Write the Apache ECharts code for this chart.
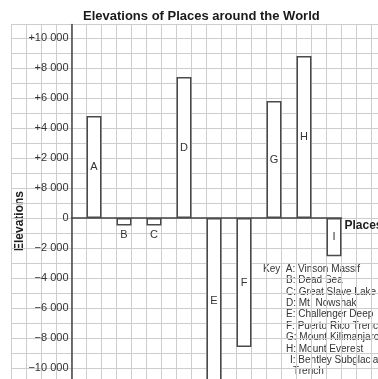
<!DOCTYPE html>
<html>
<head>
<meta charset="utf-8">
<script src="https://cdn.jsdelivr.net/npm/echarts@6/dist/echarts.min.js"></script>
<style>html,body{margin:0;padding:0;background:#fff}#c{width:378px;height:379px}</style>
</head>
<body>
<div id="c"></div>
<script>
// ---- data ----
var categories = ['A','B','C','D','E','F','G','H','I'];
// bar ends in the drawn axis units (15 px per 1000)
var elevations = [6800, -500, -500, 9400, -11000, -8600, 7800, 10800, -2550];
var labelBelow = ['B','C'];
var yTickValues = [-10000,-8000,-6000,-4000,-2000,0,2000,4000,6000,8000,10000,12000];
var yTickLabels = ['\u221210 000','\u22128 000','\u22126 000','\u22124 000','\u22122 000','0','+8 000','+2 000','+4 000','+6 000','+8 000','+10 000'];
var keyLetters = ['A','B','C','D','E','F','G','H','I'];
var keyNames = ['Vinson Massif','Dead Sea','Great Slave Lake','Mt. Nowshak','Challenger Deep','Puerto Rico Trench','Mount Kilimanjaro','Mount Everest','Bentley Subglacial'];
var keyExtra = 'Trench';

var FONT = '"Liberation Sans", Arial, sans-serif';
var chart = echarts.init(document.getElementById('c'), null, {renderer:'canvas'});

var yMin = -12000, yMax = 12900;
var gridTop = 24.5, gridHeight = 373.5;

var barData = elevations.map(function(v, i){
  var below = labelBelow.indexOf(categories[i]) >= 0;
  return {value: v, label: {position: below ? 'bottom' : 'inside', distance: 4}};
});

var keyGraphics = [];
var lineH = 11.4, keyY0 = 269;
keyLetters.forEach(function(l, i){
  var x = i === 0 ? 263 : (l === 'I' ? 290 : 286);
  var txt = (i === 0 ? 'Key: ' : '') + l + ': ' + keyNames[i];
  keyGraphics.push({type:'text', x: x, y: keyY0 + i*lineH,
    style:{text: txt, font: '10px ' + FONT, fill:'#333', verticalAlign:'middle'}});
});
keyGraphics.push({type:'text', x: 293, y: keyY0 + 9*lineH,
  style:{text: keyExtra, font: '10px ' + FONT, fill:'#333', verticalAlign:'middle'}});

chart.setOption({
  animation: false,
  backgroundColor: '#fff',
  title: {
    text: 'Elevations of Places around the World',
    left: 78, top: 5,
    textStyle: {fontFamily: FONT, fontSize: 13, fontWeight: 'bold', color: '#1a1a1a'}
  },
  grid: [
    {left: 11.5, top: gridTop, width: 435, height: gridHeight, containLabel: false, outerBoundsMode: 'none'},
    {left: 71.5, top: gridTop, width: 270, height: gridHeight, containLabel: false, outerBoundsMode: 'none'}
  ],
  xAxis: [
    {type: 'value', gridIndex: 0, min: 0, max: 29, interval: 1,
      axisLine:{show:false}, axisTick:{show:false}, axisLabel:{show:false},
      splitLine:{show:true, lineStyle:{color:'#cdcdcd', width:1}}},
    {type: 'category', gridIndex: 1, data: categories, boundaryGap: true,
      axisLine:{show:true, onZero:true, lineStyle:{color:'#444', width:1.5}},
      axisTick:{show:false}, axisLabel:{show:false}, splitLine:{show:false},
      name: 'Places', nameLocation: 'end', nameGap: 3,
      nameTextStyle:{fontFamily: FONT, fontSize: 12, fontWeight:'bold', color:'#222', verticalAlign:'top', padding:[2,0,0,0]}}
  ],
  yAxis: [
    {type: 'value', gridIndex: 0, min: yMin, max: yMax, interval: 1000,
      axisLine:{show:false}, axisTick:{show:false}, axisLabel:{show:false},
      splitLine:{show:true, lineStyle:{color:'#cdcdcd', width:1}}},
    {type: 'value', gridIndex: 1, min: yMin, max: yMax, interval: 2000,
      axisLine:{show:true, onZero:false, lineStyle:{color:'#444', width:1.5}},
      axisTick:{show:false}, splitLine:{show:false},
      axisLabel:{show:true, margin: 3, fontFamily: FONT, fontSize: 11, color:'#333',
        formatter: function(v){ var i = yTickValues.indexOf(v); return i >= 0 ? yTickLabels[i] : ''; }}}
  ],
  graphic: [
    {type:'text', x: 20, y: 221, rotation: Math.PI/2,
      style:{text:'Elevations', font:'bold 12px ' + FONT, fill:'#222', align:'center', verticalAlign:'middle'}}
  ].concat(keyGraphics),
  series: [
    {type:'bar', xAxisIndex:1, yAxisIndex:1, barWidth: 15, barGap:'0%',
      data: categories.map(function(){ return null; }), silent: true},
    {type:'bar', xAxisIndex:1, yAxisIndex:1, barWidth: 15, barGap:'0%',
      itemStyle:{color:'#fff', borderColor:'#4a4a4a', borderWidth:1.5},
      label:{show:true, formatter:'{b}', fontFamily: FONT, fontSize: 11, color:'#333'},
      data: barData}
  ]
});
</script>
</body>
</html>
